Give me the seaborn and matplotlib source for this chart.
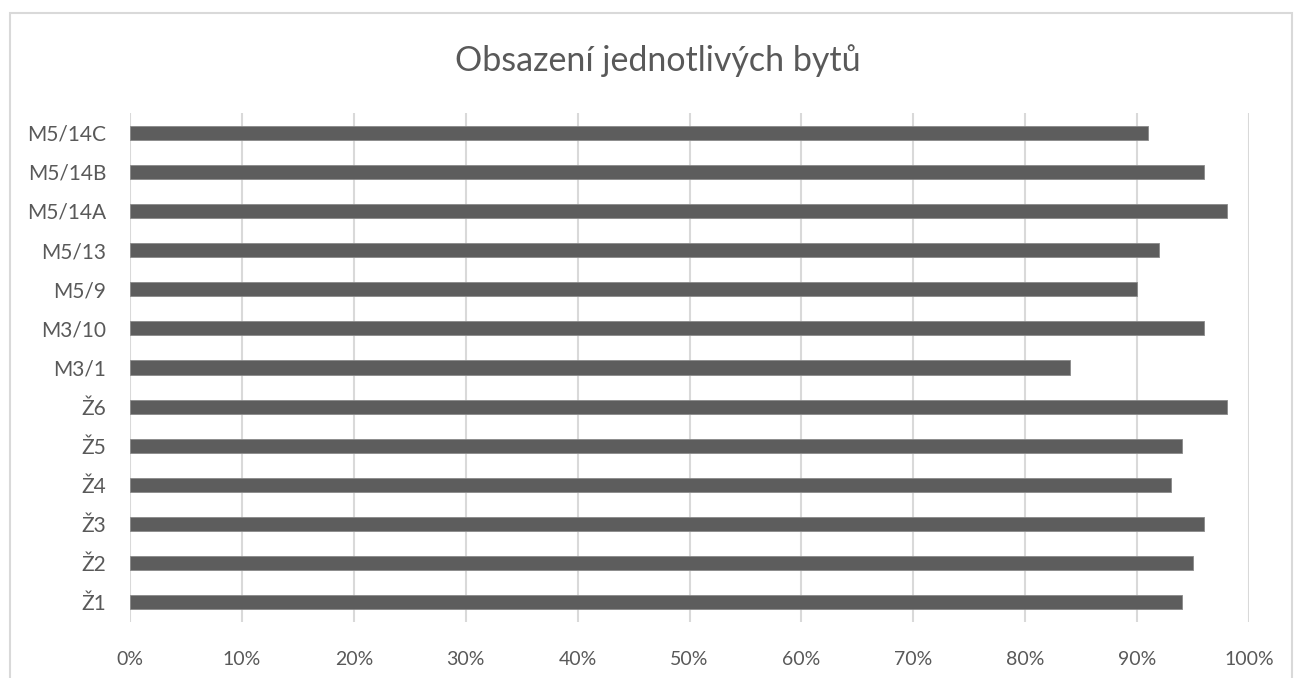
import matplotlib
matplotlib.use("Agg")
import matplotlib.pyplot as plt
import seaborn as sns
import pandas as pd
from matplotlib.patches import Rectangle
from matplotlib.ticker import PercentFormatter

# data (bottom to top)
flats = ["Ž1", "Ž2", "Ž3", "Ž4", "Ž5", "Ž6", "M3/1", "M3/10",
         "M5/9", "M5/13", "M5/14A", "M5/14B", "M5/14C"]
occupancy = [0.94, 0.95, 0.96, 0.93, 0.94, 0.98, 0.84, 0.96,
             0.90, 0.92, 0.98, 0.96, 0.91]
x_ticks = [i / 10 for i in range(11)]

df = pd.DataFrame({"byt": flats, "obsazeni": occupancy})

sns.set_style("white")
plt.rcParams['font.family'] = ['Lato', 'DejaVu Sans']

text_color = "#595959"
grid_color = "#d9d9d9"
bar_color = "#5d5d5d"

W, H = 1295, 678
fig = plt.figure(figsize=(W / 100, H / 100), dpi=100)
ax = fig.add_axes([130 / W, (H - 622) / H, (1249 - 130) / W, (622 - 113) / H])

sns.barplot(data=df, x="obsazeni", y="byt", order=flats[::-1],
            orient="h", color=bar_color, width=0.36, saturation=1,
            edgecolor="#8a8a8a", linewidth=0.6, ax=ax)

ax.set_xlim(0, 1)
ax.set_xticks(x_ticks)
ax.xaxis.set_major_formatter(PercentFormatter(1.0, decimals=0))
ax.grid(axis="x", color=grid_color, linewidth=1.5)
ax.set_axisbelow(True)
for s in ax.spines.values():
    s.set_visible(False)
ax.tick_params(axis="x", length=0, pad=21, labelsize=14, labelcolor=text_color)
ax.tick_params(axis="y", length=0, pad=17, labelsize=15, labelcolor=text_color)
ax.set_xlabel("")
ax.set_ylabel("")

fig.text(658 / W, 1 - 61 / H, "Obsazení jednotlivých bytů", ha="center",
         va="center", fontsize=24.5, color=text_color)

# chart border
fig.patches.append(Rectangle((10 / W, -0.05), (1292 - 10) / W, 1 - 13 / H + 0.05,
                             transform=fig.transFigure, fill=False,
                             edgecolor=grid_color, linewidth=1.5))

fig.savefig("out.png", dpi=100, facecolor="white")
